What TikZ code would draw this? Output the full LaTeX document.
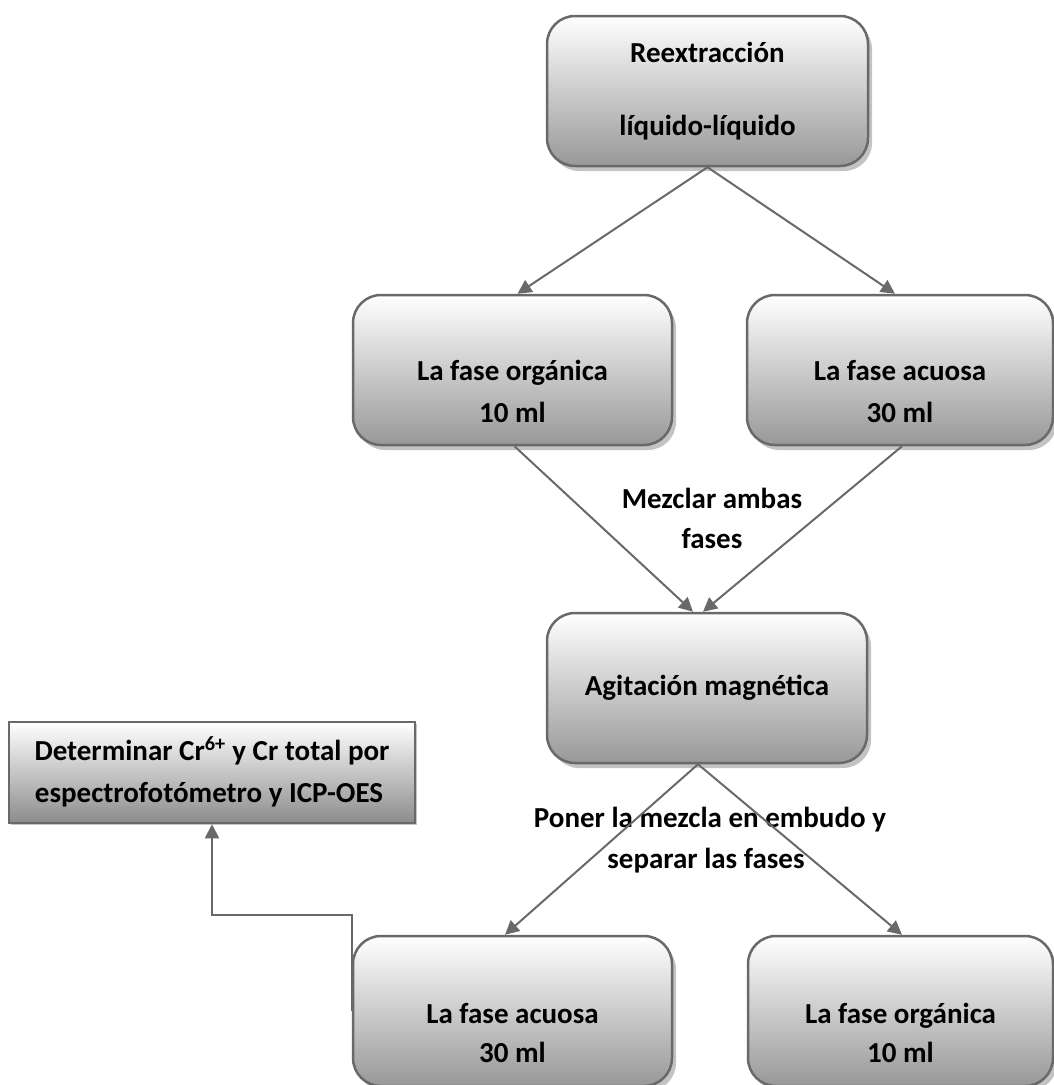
\documentclass[tikz,border=0pt]{standalone}
\usepackage{fontspec}
\setmainfont{Carlito}
\usetikzlibrary{shadows,arrows.meta,calc}

\definecolor{edgegray}{RGB}{105,105,105}
\definecolor{boxbot}{RGB}{152,152,152}
\definecolor{rectbot}{RGB}{140,140,140}
\definecolor{shadgray}{RGB}{195,195,195}

\tikzset{
  phase/.style={draw=edgegray, line width=2.5pt, rounded corners=28pt,
    top color=white, bottom color=boxbot, inner sep=0pt,
    minimum height=150pt,
    drop shadow={shadow xshift=4pt, shadow yshift=-5pt, fill=shadgray, opacity=1}},
  result/.style={draw=edgegray, line width=2.5pt,
    top color=white, bottom color=rectbot, inner sep=0pt,
    minimum width=406pt, minimum height=101pt,
    drop shadow={shadow xshift=2pt, shadow yshift=-2pt, fill=shadgray, opacity=1}},
  txt/.style={font=\bfseries\fontsize{29}{41}\selectfont, anchor=base, inner sep=0pt, text=black},
  flow/.style={draw=edgegray, line width=2pt, -{Triangle[length=14pt,width=14pt]}}
}

\begin{document}
\begin{tikzpicture}[x=1pt,y=1pt]
\useasboundingbox (0,0) rectangle (1054,-1085);

% boxes
\node[phase, minimum width=321pt] (top)  at (707.5,-91) {};
\node[phase, minimum width=319pt] (orgL) at (512.5,-370) {};
\node[phase, minimum width=306pt] (acuR) at (900,-370) {};
\node[phase, minimum width=320pt] (agit) at (707,-688) {};
\node[phase, minimum width=319pt] (acuL) at (512.5,-1011) {};
\node[phase, minimum width=305pt] (orgR) at (900.5,-1011) {};
\node[result] (det) at (212,-772.5) {};

% box texts
\node[txt] (t1a) at (707.5,-62) {Reextracción};
\node[txt] (t1b) at (707.5,-135) {líquido-líquido};
\node[txt] (t2a) at (512.5,-380) {La fase orgánica};
\node[txt] (t2b) at (512.5,-422) {10 ml};
\node[txt] (t3a) at (900,-380) {La fase acuosa};
\node[txt] (t3b) at (900,-422) {30 ml};
\node[txt] (t4)  at (707,-695) {Agitación magnética};
\node[txt] (t5a) at (512.5,-1023) {La fase acuosa};
\node[txt] (t5b) at (512.5,-1062) {30 ml};
\node[txt] (t6a) at (900.5,-1023) {La fase orgánica};
\node[txt] (t6b) at (900.5,-1062) {10 ml};
\node[txt] (t7a) at (212,-760) {Determinar Cr\textsuperscript{6+} y Cr total por};
\node[txt] (t7b) at (209,-802) {espectrofotómetro y ICP-OES};

% connector labels
\node[txt] (m1a) at (712,-508) {Mezclar ambas};
\node[txt] (m1b) at (712,-548) {fases};
\node[txt] (m2a) at (710,-827) {Poner la mezcla en embudo y};
\node[txt] (m2b) at (706,-868) {separar las fases};

% connectors
\draw[flow] (top.south) -- ([xshift=5pt]orgL.north);
\draw[flow] (top.south) -- ([xshift=-5pt]acuR.north);
\draw[flow] ([xshift=2pt]orgL.south) -- ([xshift=-14pt]agit.north);
\draw[flow] ([xshift=2pt]acuR.south) -- ([xshift=-4pt]agit.north);
\draw[flow] ([xshift=-9pt]agit.south) -- ([xshift=-7.5pt]acuL.north);
\draw[flow] ([xshift=-9pt]agit.south) -- ([xshift=1.5pt]orgR.north);
\draw[flow] (acuL.west) -- ++(0,96) -| (det.south);
\end{tikzpicture}
\end{document}
